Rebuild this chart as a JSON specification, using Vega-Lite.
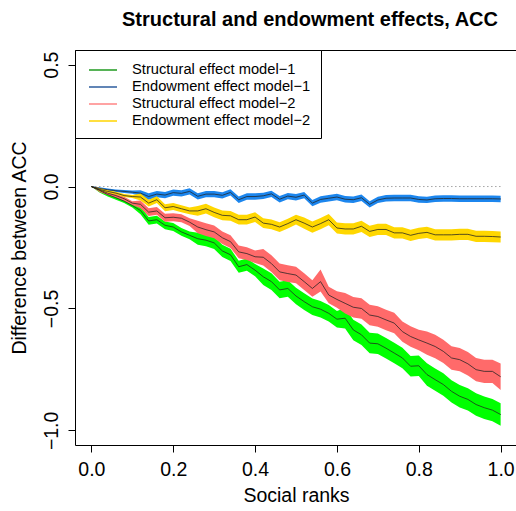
{
"$schema": "https://vega.github.io/schema/vega-lite/v6.json",
"autosize": "none",
"padding": {"left": 75, "top": 50, "right": 0, "bottom": 66},
"width": 442,
"height": 395,
"title": {"text": "Structural and endowment effects, ACC", "font": "Liberation Sans", "fontSize": 20, "fontWeight": "bold", "color": "black", "anchor": "middle", "offset": 20, "dx": 14},
"config": {
  "view": {"stroke": "black", "strokeWidth": 1},
  "font": "Liberation Sans",
  "axis": {"domain": false, "grid": false, "ticks": true, "tickColor": "black", "tickSize": 7, "tickWidth": 1, "labelFont": "Liberation Sans", "labelFontSize": 19.5, "labelColor": "black", "titleFont": "Liberation Sans", "titleFontSize": 19.5, "titleFontWeight": "normal", "titleColor": "black"}
},
"data": {"values": [
{"s":"Structural effect model−1","x":0,"m":0,"lo":0,"hi":0},
{"s":"Structural effect model−1","x":0.02,"m":-0.016,"lo":-0.024,"hi":-0.008},
{"s":"Structural effect model−1","x":0.04,"m":-0.033,"lo":-0.041,"hi":-0.025},
{"s":"Structural effect model−1","x":0.06,"m":-0.046,"lo":-0.054,"hi":-0.038},
{"s":"Structural effect model−1","x":0.08,"m":-0.06,"lo":-0.068,"hi":-0.052},
{"s":"Structural effect model−1","x":0.1,"m":-0.078,"lo":-0.086,"hi":-0.07},
{"s":"Structural effect model−1","x":0.12,"m":-0.098,"lo":-0.114,"hi":-0.082},
{"s":"Structural effect model−1","x":0.14,"m":-0.141,"lo":-0.157,"hi":-0.125},
{"s":"Structural effect model−1","x":0.16,"m":-0.136,"lo":-0.152,"hi":-0.12},
{"s":"Structural effect model−1","x":0.18,"m":-0.159,"lo":-0.175,"hi":-0.143},
{"s":"Structural effect model−1","x":0.2,"m":-0.166,"lo":-0.182,"hi":-0.15},
{"s":"Structural effect model−1","x":0.22,"m":-0.186,"lo":-0.202,"hi":-0.17},
{"s":"Structural effect model−1","x":0.24,"m":-0.2,"lo":-0.216,"hi":-0.184},
{"s":"Structural effect model−1","x":0.26,"m":-0.214,"lo":-0.239,"hi":-0.189},
{"s":"Structural effect model−1","x":0.28,"m":-0.22,"lo":-0.245,"hi":-0.195},
{"s":"Structural effect model−1","x":0.3,"m":-0.231,"lo":-0.256,"hi":-0.206},
{"s":"Structural effect model−1","x":0.32,"m":-0.264,"lo":-0.289,"hi":-0.239},
{"s":"Structural effect model−1","x":0.34,"m":-0.28,"lo":-0.305,"hi":-0.255},
{"s":"Structural effect model−1","x":0.36,"m":-0.329,"lo":-0.354,"hi":-0.304},
{"s":"Structural effect model−1","x":0.38,"m":-0.32,"lo":-0.345,"hi":-0.295},
{"s":"Structural effect model−1","x":0.4,"m":-0.343,"lo":-0.368,"hi":-0.318},
{"s":"Structural effect model−1","x":0.42,"m":-0.37,"lo":-0.404,"hi":-0.336},
{"s":"Structural effect model−1","x":0.44,"m":-0.39,"lo":-0.424,"hi":-0.356},
{"s":"Structural effect model−1","x":0.46,"m":-0.424,"lo":-0.458,"hi":-0.39},
{"s":"Structural effect model−1","x":0.48,"m":-0.418,"lo":-0.452,"hi":-0.384},
{"s":"Structural effect model−1","x":0.5,"m":-0.449,"lo":-0.483,"hi":-0.415},
{"s":"Structural effect model−1","x":0.52,"m":-0.472,"lo":-0.506,"hi":-0.438},
{"s":"Structural effect model−1","x":0.54,"m":-0.493,"lo":-0.527,"hi":-0.459},
{"s":"Structural effect model−1","x":0.56,"m":-0.503,"lo":-0.537,"hi":-0.469},
{"s":"Structural effect model−1","x":0.58,"m":-0.52,"lo":-0.554,"hi":-0.486},
{"s":"Structural effect model−1","x":0.6,"m":-0.544,"lo":-0.578,"hi":-0.51},
{"s":"Structural effect model−1","x":0.62,"m":-0.54,"lo":-0.582,"hi":-0.498},
{"s":"Structural effect model−1","x":0.64,"m":-0.588,"lo":-0.63,"hi":-0.546},
{"s":"Structural effect model−1","x":0.66,"m":-0.608,"lo":-0.65,"hi":-0.566},
{"s":"Structural effect model−1","x":0.68,"m":-0.642,"lo":-0.684,"hi":-0.6},
{"s":"Structural effect model−1","x":0.7,"m":-0.645,"lo":-0.687,"hi":-0.603},
{"s":"Structural effect model−1","x":0.72,"m":-0.663,"lo":-0.705,"hi":-0.621},
{"s":"Structural effect model−1","x":0.74,"m":-0.683,"lo":-0.725,"hi":-0.641},
{"s":"Structural effect model−1","x":0.76,"m":-0.703,"lo":-0.745,"hi":-0.661},
{"s":"Structural effect model−1","x":0.78,"m":-0.737,"lo":-0.779,"hi":-0.695},
{"s":"Structural effect model−1","x":0.8,"m":-0.735,"lo":-0.777,"hi":-0.693},
{"s":"Structural effect model−1","x":0.82,"m":-0.771,"lo":-0.817,"hi":-0.725},
{"s":"Structural effect model−1","x":0.84,"m":-0.792,"lo":-0.838,"hi":-0.746},
{"s":"Structural effect model−1","x":0.86,"m":-0.812,"lo":-0.858,"hi":-0.766},
{"s":"Structural effect model−1","x":0.88,"m":-0.84,"lo":-0.886,"hi":-0.794},
{"s":"Structural effect model−1","x":0.9,"m":-0.86,"lo":-0.906,"hi":-0.814},
{"s":"Structural effect model−1","x":0.92,"m":-0.873,"lo":-0.919,"hi":-0.827},
{"s":"Structural effect model−1","x":0.94,"m":-0.894,"lo":-0.94,"hi":-0.848},
{"s":"Structural effect model−1","x":0.96,"m":-0.907,"lo":-0.953,"hi":-0.861},
{"s":"Structural effect model−1","x":0.98,"m":-0.917,"lo":-0.963,"hi":-0.871},
{"s":"Structural effect model−1","x":1,"m":-0.935,"lo":-0.981,"hi":-0.889},
{"s":"Endowment effect model−1","x":0,"m":0,"lo":0,"hi":0},
{"s":"Endowment effect model−1","x":0.02,"m":-0.008,"lo":-0.013,"hi":-0.003},
{"s":"Endowment effect model−1","x":0.04,"m":-0.013,"lo":-0.018,"hi":-0.008},
{"s":"Endowment effect model−1","x":0.06,"m":-0.017,"lo":-0.022,"hi":-0.012},
{"s":"Endowment effect model−1","x":0.08,"m":-0.02,"lo":-0.026,"hi":-0.014},
{"s":"Endowment effect model−1","x":0.1,"m":-0.023,"lo":-0.03,"hi":-0.016},
{"s":"Endowment effect model−1","x":0.12,"m":-0.027,"lo":-0.039,"hi":-0.015},
{"s":"Endowment effect model−1","x":0.14,"m":-0.041,"lo":-0.054,"hi":-0.028},
{"s":"Endowment effect model−1","x":0.16,"m":-0.031,"lo":-0.044,"hi":-0.018},
{"s":"Endowment effect model−1","x":0.18,"m":-0.035,"lo":-0.048,"hi":-0.022},
{"s":"Endowment effect model−1","x":0.2,"m":-0.025,"lo":-0.038,"hi":-0.012},
{"s":"Endowment effect model−1","x":0.22,"m":-0.028,"lo":-0.041,"hi":-0.015},
{"s":"Endowment effect model−1","x":0.24,"m":-0.02,"lo":-0.033,"hi":-0.007},
{"s":"Endowment effect model−1","x":0.26,"m":-0.04,"lo":-0.053,"hi":-0.027},
{"s":"Endowment effect model−1","x":0.28,"m":-0.031,"lo":-0.044,"hi":-0.018},
{"s":"Endowment effect model−1","x":0.3,"m":-0.031,"lo":-0.044,"hi":-0.018},
{"s":"Endowment effect model−1","x":0.32,"m":-0.036,"lo":-0.049,"hi":-0.023},
{"s":"Endowment effect model−1","x":0.34,"m":-0.024,"lo":-0.037,"hi":-0.011},
{"s":"Endowment effect model−1","x":0.36,"m":-0.054,"lo":-0.067,"hi":-0.041},
{"s":"Endowment effect model−1","x":0.38,"m":-0.041,"lo":-0.054,"hi":-0.028},
{"s":"Endowment effect model−1","x":0.4,"m":-0.041,"lo":-0.054,"hi":-0.028},
{"s":"Endowment effect model−1","x":0.42,"m":-0.038,"lo":-0.051,"hi":-0.025},
{"s":"Endowment effect model−1","x":0.44,"m":-0.03,"lo":-0.043,"hi":-0.017},
{"s":"Endowment effect model−1","x":0.46,"m":-0.052,"lo":-0.065,"hi":-0.039},
{"s":"Endowment effect model−1","x":0.48,"m":-0.039,"lo":-0.052,"hi":-0.026},
{"s":"Endowment effect model−1","x":0.5,"m":-0.044,"lo":-0.057,"hi":-0.031},
{"s":"Endowment effect model−1","x":0.52,"m":-0.035,"lo":-0.048,"hi":-0.022},
{"s":"Endowment effect model−1","x":0.54,"m":-0.068,"lo":-0.081,"hi":-0.055},
{"s":"Endowment effect model−1","x":0.56,"m":-0.053,"lo":-0.066,"hi":-0.04},
{"s":"Endowment effect model−1","x":0.58,"m":-0.048,"lo":-0.061,"hi":-0.035},
{"s":"Endowment effect model−1","x":0.6,"m":-0.043,"lo":-0.056,"hi":-0.03},
{"s":"Endowment effect model−1","x":0.62,"m":-0.052,"lo":-0.065,"hi":-0.039},
{"s":"Endowment effect model−1","x":0.64,"m":-0.054,"lo":-0.067,"hi":-0.041},
{"s":"Endowment effect model−1","x":0.66,"m":-0.046,"lo":-0.059,"hi":-0.033},
{"s":"Endowment effect model−1","x":0.68,"m":-0.073,"lo":-0.086,"hi":-0.06},
{"s":"Endowment effect model−1","x":0.7,"m":-0.055,"lo":-0.068,"hi":-0.042},
{"s":"Endowment effect model−1","x":0.72,"m":-0.048,"lo":-0.061,"hi":-0.035},
{"s":"Endowment effect model−1","x":0.74,"m":-0.047,"lo":-0.06,"hi":-0.034},
{"s":"Endowment effect model−1","x":0.76,"m":-0.047,"lo":-0.06,"hi":-0.034},
{"s":"Endowment effect model−1","x":0.78,"m":-0.047,"lo":-0.06,"hi":-0.034},
{"s":"Endowment effect model−1","x":0.8,"m":-0.053,"lo":-0.066,"hi":-0.04},
{"s":"Endowment effect model−1","x":0.82,"m":-0.055,"lo":-0.068,"hi":-0.042},
{"s":"Endowment effect model−1","x":0.84,"m":-0.05,"lo":-0.063,"hi":-0.037},
{"s":"Endowment effect model−1","x":0.86,"m":-0.049,"lo":-0.062,"hi":-0.036},
{"s":"Endowment effect model−1","x":0.88,"m":-0.049,"lo":-0.062,"hi":-0.036},
{"s":"Endowment effect model−1","x":0.9,"m":-0.05,"lo":-0.063,"hi":-0.037},
{"s":"Endowment effect model−1","x":0.92,"m":-0.05,"lo":-0.063,"hi":-0.037},
{"s":"Endowment effect model−1","x":0.94,"m":-0.05,"lo":-0.063,"hi":-0.037},
{"s":"Endowment effect model−1","x":0.96,"m":-0.05,"lo":-0.063,"hi":-0.037},
{"s":"Endowment effect model−1","x":0.98,"m":-0.05,"lo":-0.063,"hi":-0.037},
{"s":"Endowment effect model−1","x":1,"m":-0.051,"lo":-0.064,"hi":-0.038},
{"s":"Structural effect model−2","x":0,"m":0,"lo":0,"hi":0},
{"s":"Structural effect model−2","x":0.02,"m":-0.014,"lo":-0.022,"hi":-0.006},
{"s":"Structural effect model−2","x":0.04,"m":-0.027,"lo":-0.035,"hi":-0.019},
{"s":"Structural effect model−2","x":0.06,"m":-0.037,"lo":-0.045,"hi":-0.029},
{"s":"Structural effect model−2","x":0.08,"m":-0.05,"lo":-0.058,"hi":-0.042},
{"s":"Structural effect model−2","x":0.1,"m":-0.068,"lo":-0.076,"hi":-0.06},
{"s":"Structural effect model−2","x":0.12,"m":-0.073,"lo":-0.089,"hi":-0.057},
{"s":"Structural effect model−2","x":0.14,"m":-0.105,"lo":-0.121,"hi":-0.089},
{"s":"Structural effect model−2","x":0.16,"m":-0.1,"lo":-0.116,"hi":-0.084},
{"s":"Structural effect model−2","x":0.18,"m":-0.128,"lo":-0.144,"hi":-0.112},
{"s":"Structural effect model−2","x":0.2,"m":-0.126,"lo":-0.142,"hi":-0.11},
{"s":"Structural effect model−2","x":0.22,"m":-0.13,"lo":-0.146,"hi":-0.114},
{"s":"Structural effect model−2","x":0.24,"m":-0.146,"lo":-0.162,"hi":-0.13},
{"s":"Structural effect model−2","x":0.26,"m":-0.166,"lo":-0.192,"hi":-0.14},
{"s":"Structural effect model−2","x":0.28,"m":-0.177,"lo":-0.203,"hi":-0.151},
{"s":"Structural effect model−2","x":0.3,"m":-0.186,"lo":-0.212,"hi":-0.16},
{"s":"Structural effect model−2","x":0.32,"m":-0.21,"lo":-0.236,"hi":-0.184},
{"s":"Structural effect model−2","x":0.34,"m":-0.226,"lo":-0.252,"hi":-0.2},
{"s":"Structural effect model−2","x":0.36,"m":-0.268,"lo":-0.294,"hi":-0.242},
{"s":"Structural effect model−2","x":0.38,"m":-0.275,"lo":-0.301,"hi":-0.249},
{"s":"Structural effect model−2","x":0.4,"m":-0.288,"lo":-0.314,"hi":-0.262},
{"s":"Structural effect model−2","x":0.42,"m":-0.29,"lo":-0.324,"hi":-0.256},
{"s":"Structural effect model−2","x":0.44,"m":-0.316,"lo":-0.35,"hi":-0.282},
{"s":"Structural effect model−2","x":0.46,"m":-0.35,"lo":-0.384,"hi":-0.316},
{"s":"Structural effect model−2","x":0.48,"m":-0.357,"lo":-0.391,"hi":-0.323},
{"s":"Structural effect model−2","x":0.5,"m":-0.363,"lo":-0.397,"hi":-0.329},
{"s":"Structural effect model−2","x":0.52,"m":-0.39,"lo":-0.424,"hi":-0.356},
{"s":"Structural effect model−2","x":0.54,"m":-0.418,"lo":-0.452,"hi":-0.384},
{"s":"Structural effect model−2","x":0.56,"m":-0.39,"lo":-0.43,"hi":-0.34},
{"s":"Structural effect model−2","x":0.58,"m":-0.445,"lo":-0.479,"hi":-0.411},
{"s":"Structural effect model−2","x":0.6,"m":-0.463,"lo":-0.497,"hi":-0.429},
{"s":"Structural effect model−2","x":0.62,"m":-0.479,"lo":-0.521,"hi":-0.437},
{"s":"Structural effect model−2","x":0.64,"m":-0.495,"lo":-0.537,"hi":-0.453},
{"s":"Structural effect model−2","x":0.66,"m":-0.5,"lo":-0.542,"hi":-0.458},
{"s":"Structural effect model−2","x":0.68,"m":-0.527,"lo":-0.569,"hi":-0.485},
{"s":"Structural effect model−2","x":0.7,"m":-0.533,"lo":-0.575,"hi":-0.491},
{"s":"Structural effect model−2","x":0.72,"m":-0.547,"lo":-0.589,"hi":-0.505},
{"s":"Structural effect model−2","x":0.74,"m":-0.56,"lo":-0.602,"hi":-0.518},
{"s":"Structural effect model−2","x":0.76,"m":-0.595,"lo":-0.637,"hi":-0.553},
{"s":"Structural effect model−2","x":0.78,"m":-0.615,"lo":-0.657,"hi":-0.573},
{"s":"Structural effect model−2","x":0.8,"m":-0.629,"lo":-0.671,"hi":-0.587},
{"s":"Structural effect model−2","x":0.82,"m":-0.642,"lo":-0.69,"hi":-0.594},
{"s":"Structural effect model−2","x":0.84,"m":-0.656,"lo":-0.704,"hi":-0.608},
{"s":"Structural effect model−2","x":0.86,"m":-0.676,"lo":-0.724,"hi":-0.628},
{"s":"Structural effect model−2","x":0.88,"m":-0.703,"lo":-0.751,"hi":-0.655},
{"s":"Structural effect model−2","x":0.9,"m":-0.71,"lo":-0.758,"hi":-0.662},
{"s":"Structural effect model−2","x":0.92,"m":-0.727,"lo":-0.775,"hi":-0.679},
{"s":"Structural effect model−2","x":0.94,"m":-0.751,"lo":-0.799,"hi":-0.703},
{"s":"Structural effect model−2","x":0.96,"m":-0.758,"lo":-0.806,"hi":-0.71},
{"s":"Structural effect model−2","x":0.98,"m":-0.758,"lo":-0.806,"hi":-0.71},
{"s":"Structural effect model−2","x":1,"m":-0.78,"lo":-0.834,"hi":-0.726},
{"s":"Endowment effect model−2","x":0,"m":0,"lo":0,"hi":0},
{"s":"Endowment effect model−2","x":0.02,"m":-0.012,"lo":-0.018,"hi":-0.006},
{"s":"Endowment effect model−2","x":0.04,"m":-0.02,"lo":-0.026,"hi":-0.014},
{"s":"Endowment effect model−2","x":0.06,"m":-0.027,"lo":-0.033,"hi":-0.021},
{"s":"Endowment effect model−2","x":0.08,"m":-0.037,"lo":-0.043,"hi":-0.031},
{"s":"Endowment effect model−2","x":0.1,"m":-0.041,"lo":-0.047,"hi":-0.035},
{"s":"Endowment effect model−2","x":0.12,"m":-0.043,"lo":-0.057,"hi":-0.029},
{"s":"Endowment effect model−2","x":0.14,"m":-0.068,"lo":-0.082,"hi":-0.054},
{"s":"Endowment effect model−2","x":0.16,"m":-0.054,"lo":-0.068,"hi":-0.04},
{"s":"Endowment effect model−2","x":0.18,"m":-0.087,"lo":-0.101,"hi":-0.073},
{"s":"Endowment effect model−2","x":0.2,"m":-0.082,"lo":-0.096,"hi":-0.068},
{"s":"Endowment effect model−2","x":0.22,"m":-0.091,"lo":-0.105,"hi":-0.077},
{"s":"Endowment effect model−2","x":0.24,"m":-0.1,"lo":-0.114,"hi":-0.086},
{"s":"Endowment effect model−2","x":0.26,"m":-0.1,"lo":-0.12,"hi":-0.08},
{"s":"Endowment effect model−2","x":0.28,"m":-0.091,"lo":-0.111,"hi":-0.071},
{"s":"Endowment effect model−2","x":0.3,"m":-0.106,"lo":-0.126,"hi":-0.086},
{"s":"Endowment effect model−2","x":0.32,"m":-0.118,"lo":-0.138,"hi":-0.098},
{"s":"Endowment effect model−2","x":0.34,"m":-0.12,"lo":-0.14,"hi":-0.1},
{"s":"Endowment effect model−2","x":0.36,"m":-0.136,"lo":-0.156,"hi":-0.116},
{"s":"Endowment effect model−2","x":0.38,"m":-0.136,"lo":-0.156,"hi":-0.116},
{"s":"Endowment effect model−2","x":0.4,"m":-0.125,"lo":-0.145,"hi":-0.105},
{"s":"Endowment effect model−2","x":0.42,"m":-0.15,"lo":-0.17,"hi":-0.13},
{"s":"Endowment effect model−2","x":0.44,"m":-0.155,"lo":-0.175,"hi":-0.135},
{"s":"Endowment effect model−2","x":0.46,"m":-0.166,"lo":-0.186,"hi":-0.146},
{"s":"Endowment effect model−2","x":0.48,"m":-0.152,"lo":-0.172,"hi":-0.132},
{"s":"Endowment effect model−2","x":0.5,"m":-0.136,"lo":-0.156,"hi":-0.116},
{"s":"Endowment effect model−2","x":0.52,"m":-0.15,"lo":-0.173,"hi":-0.127},
{"s":"Endowment effect model−2","x":0.54,"m":-0.166,"lo":-0.189,"hi":-0.143},
{"s":"Endowment effect model−2","x":0.56,"m":-0.152,"lo":-0.175,"hi":-0.129},
{"s":"Endowment effect model−2","x":0.58,"m":-0.136,"lo":-0.159,"hi":-0.113},
{"s":"Endowment effect model−2","x":0.6,"m":-0.17,"lo":-0.193,"hi":-0.147},
{"s":"Endowment effect model−2","x":0.62,"m":-0.174,"lo":-0.197,"hi":-0.151},
{"s":"Endowment effect model−2","x":0.64,"m":-0.174,"lo":-0.197,"hi":-0.151},
{"s":"Endowment effect model−2","x":0.66,"m":-0.163,"lo":-0.186,"hi":-0.14},
{"s":"Endowment effect model−2","x":0.68,"m":-0.184,"lo":-0.207,"hi":-0.161},
{"s":"Endowment effect model−2","x":0.7,"m":-0.176,"lo":-0.199,"hi":-0.153},
{"s":"Endowment effect model−2","x":0.72,"m":-0.176,"lo":-0.199,"hi":-0.153},
{"s":"Endowment effect model−2","x":0.74,"m":-0.19,"lo":-0.213,"hi":-0.167},
{"s":"Endowment effect model−2","x":0.76,"m":-0.19,"lo":-0.213,"hi":-0.167},
{"s":"Endowment effect model−2","x":0.78,"m":-0.2,"lo":-0.223,"hi":-0.177},
{"s":"Endowment effect model−2","x":0.8,"m":-0.192,"lo":-0.215,"hi":-0.169},
{"s":"Endowment effect model−2","x":0.82,"m":-0.188,"lo":-0.211,"hi":-0.165},
{"s":"Endowment effect model−2","x":0.84,"m":-0.198,"lo":-0.221,"hi":-0.175},
{"s":"Endowment effect model−2","x":0.86,"m":-0.198,"lo":-0.221,"hi":-0.175},
{"s":"Endowment effect model−2","x":0.88,"m":-0.198,"lo":-0.221,"hi":-0.175},
{"s":"Endowment effect model−2","x":0.9,"m":-0.196,"lo":-0.219,"hi":-0.173},
{"s":"Endowment effect model−2","x":0.92,"m":-0.196,"lo":-0.219,"hi":-0.173},
{"s":"Endowment effect model−2","x":0.94,"m":-0.204,"lo":-0.227,"hi":-0.181},
{"s":"Endowment effect model−2","x":0.96,"m":-0.204,"lo":-0.227,"hi":-0.181},
{"s":"Endowment effect model−2","x":0.98,"m":-0.205,"lo":-0.228,"hi":-0.182},
{"s":"Endowment effect model−2","x":1,"m":-0.207,"lo":-0.23,"hi":-0.184}
]},
"layer": [
  {
    "data": {"values": [{"x0": 0, "x1": 1, "y0": 0}]},
    "mark": {"type": "rule", "color": "#777777", "strokeDash": [1, 3], "strokeWidth": 1},
    "encoding": {
      "x": {"field": "x0", "type": "quantitative", "title": "Social ranks", "scale": {"domain": [-0.04, 1.04], "nice": false, "zero": false}, "axis": {"values": [0, 0.2, 0.4, 0.6, 0.8, 1], "format": ".1f", "labelPadding": 8, "titlePadding": 8, "labelFlush": false, "labelOverlap": false}},
      "x2": {"field": "x1"},
      "y": {"field": "y0", "type": "quantitative", "title": "Difference between ACC", "scale": {"domain": [-1.06, 0.56], "nice": false, "zero": false}, "axis": {"values": [-1, -0.5, 0, 0.5], "format": ".1f", "labelAngle": -90, "labelAlign": "center", "labelBaseline": "alphabetic", "labelPadding": 11, "titlePadding": 12}}
    }
  },
  {
    "mark": {"type": "line", "strokeWidth": 1},
    "encoding": {
      "x": {"field": "x", "type": "quantitative", "title": "Social ranks"},
      "y": {"field": "m", "type": "quantitative", "title": "Difference between ACC"},
      "stroke": {"field": "s", "type": "nominal",
        "scale": {"domain": ["Structural effect model−1", "Endowment effect model−1", "Structural effect model−2", "Endowment effect model−2"], "range": ["#1f9a1f", "#2c5c9e", "#ff8585", "#ffd400"]},
        "legend": {"title": null, "orient": "none", "legendX": 0, "legendY": 0, "padding": 10, "strokeColor": "black", "fillColor": "white", "symbolType": "M-0.667,0H2.444", "symbolSize": 324, "symbolStrokeWidth": 1.5, "labelFont": "Liberation Sans", "labelFontSize": 14.7, "labelColor": "black", "labelOffset": 27, "rowPadding": 0, "cornerRadius": 0, "labelLimit": 400}}
    }
  },
  {
    "mark": {"type": "area", "opacity": 1},
    "encoding": {
      "x": {"field": "x", "type": "quantitative", "title": "Social ranks"},
      "y": {"field": "lo", "type": "quantitative", "title": "Difference between ACC"},
      "y2": {"field": "hi"},
      "fill": {"field": "s", "type": "nominal",
        "scale": {"domain": ["Structural effect model−1", "Endowment effect model−1", "Structural effect model−2", "Endowment effect model−2"], "range": ["#00ff00", "#1c86ee", "#ff6a6a", "#ffd700"]},
        "legend": null}
    }
  },
  {
    "mark": {"type": "line", "color": "#222222", "strokeWidth": 0.9, "opacity": 0.85},
    "encoding": {
      "x": {"field": "x", "type": "quantitative", "title": "Social ranks"},
      "y": {"field": "m", "type": "quantitative", "title": "Difference between ACC"},
      "detail": {"field": "s", "type": "nominal"}
    }
  }
]
}
